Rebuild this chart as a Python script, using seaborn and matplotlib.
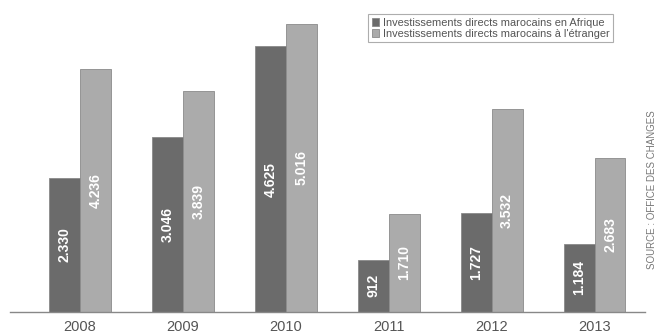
import matplotlib
matplotlib.use("Agg")
import matplotlib.pyplot as plt
import seaborn as sns
import pandas as pd

years = ["2008", "2009", "2010", "2011", "2012", "2013"]
afrique = [2330, 3046, 4625, 912, 1727, 1184]
etranger = [4236, 3839, 5016, 1710, 3532, 2683]
series_names = ["Investissements directs marocains en Afrique",
                "Investissements directs marocains à l'étranger"]
source_text = "SOURCE : OFFICE DES CHANGES"

df = pd.DataFrame({
    "year": years * 2,
    "value": afrique + etranger,
    "serie": [series_names[0]] * len(years) + [series_names[1]] * len(years),
})

sns.set_theme(style="white")
plt.rcParams["font.family"] = ["Liberation Sans", "DejaVu Sans"]

fig = plt.figure(figsize=(6.58, 3.36), dpi=100)
ax = fig.add_axes([10 / 658, (336 - 312) / 336, 635 / 658, 312 / 336])

palette = {series_names[0]: "#6b6b6b", series_names[1]: "#ababab"}
sns.barplot(data=df, x="year", y="value", hue="serie", palette=palette,
            width=0.6, gap=0, ax=ax, saturation=1, legend=True,
            edgecolor="#8a8a8a", linewidth=0.6)

for cont in ax.containers:
    labels = [f"{int(v):,}".replace(",", ".") for v in cont.datavalues]
    ax.bar_label(cont, labels=labels, label_type="center", rotation=90,
                 color="white", fontsize=10, fontweight="bold")

ax.set_xlim(-0.68, 5.49)
ax.set_ylim(0, 5430)
ax.set_xlabel("")
ax.set_ylabel("")
ax.set_yticks([])
ax.tick_params(axis="x", length=0, pad=6, labelsize=10.5, colors="#555555")
for s in ["top", "right", "left"]:
    ax.spines[s].set_visible(False)
ax.spines["bottom"].set_color("#888888")
ax.spines["bottom"].set_linewidth(1)

leg = ax.legend(loc="upper left", bbox_to_anchor=(353 / 635, 1 - 9 / 312),
                frameon=True, fontsize=7.9, handlelength=0.7, handleheight=0.7,
                handletextpad=0.3, borderpad=0.3, labelspacing=0.1,
                fancybox=False, edgecolor="#999999")
leg.get_frame().set_linewidth(0.8)
for t in leg.get_texts():
    t.set_color("#555555")

fig.text(652 / 658, 1 - 190 / 336, source_text, rotation=90, ha="center",
         va="center", fontsize=7, color="#777777")

fig.savefig("out.png", dpi=100)
